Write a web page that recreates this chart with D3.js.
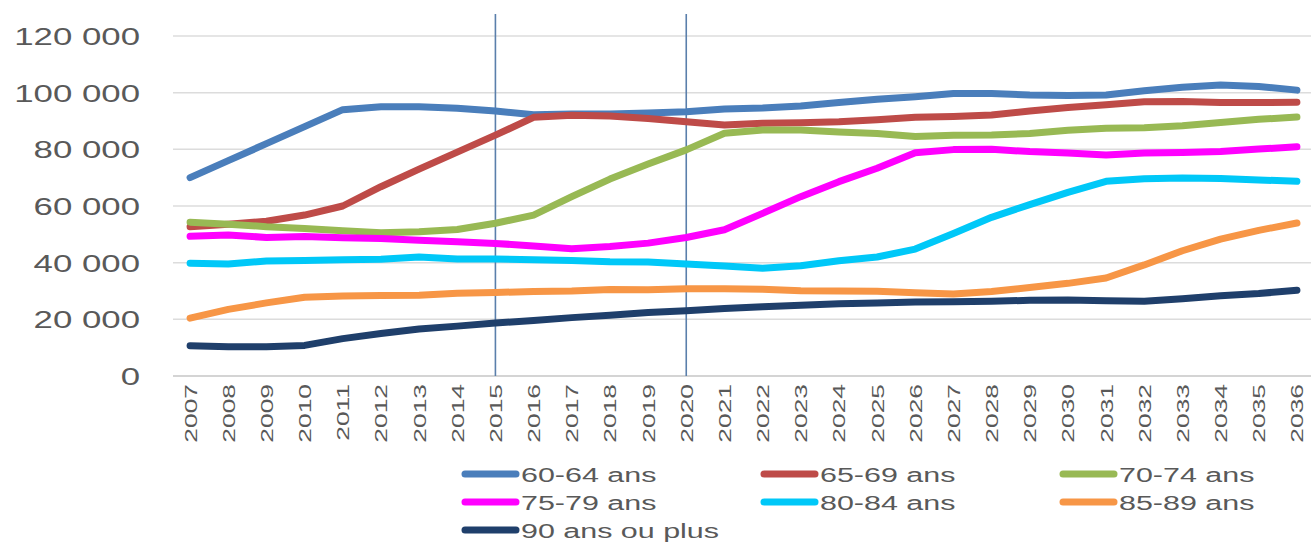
<!DOCTYPE html>
<html><head><meta charset="utf-8">
<script src="https://cdn.jsdelivr.net/npm/d3@7/dist/d3.min.js"></script>
<style>
html,body{margin:0;padding:0;background:#fff;}
svg{display:block;font-family:"Liberation Sans",Arial,sans-serif;}
</style></head>
<body>
<svg id="chart" width="1311" height="544"></svg>
<script>
const years = d3.range(2007, 2037).map(String);
const seriesNames = ["60-64 ans","65-69 ans","70-74 ans","75-79 ans","80-84 ans","85-89 ans","90 ans ou plus"];
const seriesColors = ["#4a7ebb","#be4b48","#98b954","#ff00ff","#00c8f8","#f79646","#1f3f6b"];
const s6064 = [70000,76000,82000,88000,94000,95000,95000,94500,93500,92200,92500,92500,92800,93300,94200,94600,95300,96500,97700,98600,99700,99700,99200,99000,99200,100700,101900,102700,102200,100900];
const s6569 = [52700,53600,54600,56800,60000,66800,73000,79000,85000,91300,92000,91800,90900,89700,88600,89200,89400,89700,90400,91300,91600,92100,93500,94800,95700,96800,96900,96500,96500,96600];
const s7074 = [54300,53600,52700,52100,51300,50600,50900,51700,53900,56800,63300,69500,74800,79800,85700,86800,86800,86100,85600,84500,85000,85100,85600,86700,87400,87600,88300,89500,90600,91400];
const s7579 = [49300,49800,48900,49200,48800,48500,47900,47400,46800,45900,44900,45700,46900,48900,51600,57400,63300,68600,73300,78800,79900,80000,79200,78700,78000,78700,78900,79200,80100,80900];
const s8084 = [39800,39500,40600,40800,41000,41200,42000,41300,41300,41000,40800,40300,40200,39500,38800,38000,38900,40700,42000,44800,50300,56000,60500,64800,68700,69600,69900,69700,69200,68700];
const s8589 = [20400,23500,25800,27800,28200,28400,28500,29200,29500,29800,30000,30500,30400,30800,30800,30600,30100,30000,29900,29400,28900,29800,31200,32700,34600,39200,44200,48300,51400,54000];
const s90 = [10700,10300,10300,10800,13200,15000,16600,17600,18700,19600,20600,21400,22400,23000,23800,24400,25000,25500,25800,26100,26200,26400,26700,26800,26600,26400,27300,28300,29100,30300];
const seriesValues = [s6064,s6569,s7074,s7579,s8084,s8589,s90];
const yTickValues = [0,20000,40000,60000,80000,100000,120000];
const yTickLabels = ["0","20 000","40 000","60 000","80 000","100 000","120 000"];
const markerYears = ["2015","2020"];

const svg = d3.select("#chart");
const x = d3.scalePoint().domain(years).range([171,1316]).padding(0.5);
const y = d3.scaleLinear().domain([0,120000]).range([376,36]);
const textColor = "#595959";

// gridlines
svg.append("g").selectAll("line").data(yTickValues).join("line")
  .attr("x1",173).attr("x2",1311)
  .attr("y1",d=>y(d)).attr("y2",d=>y(d))
  .attr("stroke",d=>d===0?"#d4d4d4":"#dcdcdc").attr("stroke-width",d=>d===0?2:1.5);

// y axis
const gy = svg.append("g").attr("transform","translate(140,0)")
  .call(d3.axisLeft(y).tickValues(yTickValues).tickSize(0).tickPadding(0)
    .tickFormat((d,i)=>yTickLabels[i]));
gy.select(".domain").remove();
gy.selectAll("text").attr("x",0).attr("dy","0.36em").attr("text-anchor","end")
  .attr("transform","scale(1.45,1)")
  .attr("fill",textColor).style("font-size","24px").style("font-family","'Liberation Sans',Arial,sans-serif");

// x axis
const gx = svg.append("g").attr("transform","translate(0,376)")
  .call(d3.axisBottom(x).tickSize(0));
gx.select(".domain").remove();
gx.selectAll("text").attr("x",-5).attr("y",0).attr("dy","0.36em").attr("text-anchor","end")
  .attr("transform","rotate(-90) scale(1.6,1)")
  .attr("fill",textColor).style("font-size","16.5px").style("font-family","'Liberation Sans',Arial,sans-serif");

// vertical marker lines
svg.append("g").selectAll("line").data(markerYears).join("line")
  .attr("x1",d=>x(d)).attr("x2",d=>x(d)).attr("y1",14).attr("y2",376)
  .attr("stroke","#5a7fab").attr("stroke-width",1.6);

// series lines
const line = d3.line().x((d,i)=>x(years[i])).y(d=>y(d));
svg.append("g").selectAll("path").data(seriesValues).join("path")
  .attr("d",d=>line(d)).attr("fill","none")
  .attr("stroke",(d,i)=>seriesColors[i]).attr("stroke-width",7)
  .attr("stroke-linecap","round").attr("stroke-linejoin","round");

// legend
const lg = svg.append("g").selectAll("g").data(seriesNames).join("g")
  .attr("transform",(d,i)=>`translate(${462+(i%3)*299},${474+Math.floor(i/3)*28})`);
lg.append("line").attr("x1",3).attr("x2",54).attr("y1",0).attr("y2",0)
  .attr("stroke",(d,i)=>seriesColors[i]).attr("stroke-width",7).attr("stroke-linecap","round");
lg.append("text").attr("x",0).attr("dy","0.36em")
  .attr("transform","translate(59,0) scale(1.45,1)")
  .attr("fill",textColor).style("font-size","21px").text(d=>d);
</script>
</body></html>
